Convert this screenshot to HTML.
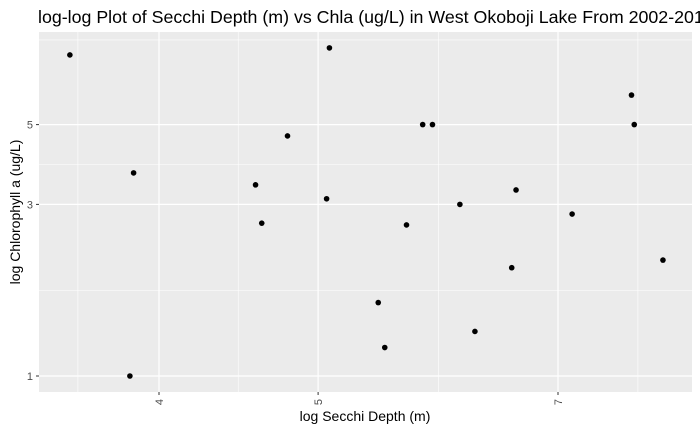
<!DOCTYPE html>
<html><head><meta charset="utf-8"><style>
body{margin:0;background:#fff;}
svg{display:block;font-family:"Liberation Sans",Arial,sans-serif;}
</style></head><body>
<svg id="chart" width="700" height="432">
<text x="38" y="23" font-size="17.8" fill="#000">log-log Plot of Secchi Depth (m) vs Chla (ug/L) in West Okoboji Lake From 2002-2018</text>
<rect x="39" y="32" width="653" height="360" fill="#ebebeb"/>
<g id="grid"></g><g id="pts"></g><g id="ticks"></g>
<text x="365" y="421" font-size="14" text-anchor="middle" fill="#000">log Secchi Depth (m)</text>
<text transform="translate(20,212) rotate(-90)" font-size="14" text-anchor="middle" fill="#000">log Chlorophyll a (ug/L)</text>
</svg>
<script>
const secchi=[3.53,3.86,3.84,4.58,4.62,4.79,5.06,5.08,5.44,5.49,5.66,5.79,5.87,6.10,6.23,6.56,6.60,7.14,7.76,7.79,8.11];
const chla=[7.81,3.67,1.0,3.40,2.66,4.65,3.11,8.17,1.60,1.20,2.63,5.0,5.0,3.0,1.33,2.0,3.29,2.82,6.04,5.0,2.10];
const xTicks=[4,5,7];
const xMinor=[3.57,4.47,5.92,7.83];
const yTicks=[1,3,5];
const yMinor=[1.73,3.87,8.6];
const NS='http://www.w3.org/2000/svg';
const X=v=>159+Math.log(v/4)*713;
const Y=v=>376-Math.log(v)*156.2;
function mk(t,a,p){const e=document.createElementNS(NS,t);for(const k in a)e.setAttribute(k,a[k]);p.appendChild(e);return e;}
const g=document.getElementById('grid'),pg=document.getElementById('pts'),tg=document.getElementById('ticks');
xMinor.forEach(v=>{const l=mk('line',{x1:X(v),x2:X(v),y1:32,y2:392,stroke:'#fff','stroke-width':0.6},g);

});
yMinor.forEach(v=>{const l=mk('line',{x1:39,x2:692,y1:Y(v),y2:Y(v),stroke:'#fff','stroke-width':0.6},g);

});
xTicks.forEach(v=>{const l=mk('line',{x1:X(v),x2:X(v),y1:32,y2:392,stroke:'#fff','stroke-width':1.2},g);


mk('line',{x1:X(v),x2:X(v),y1:392,y2:395,stroke:'#333','stroke-width':1},tg);
const t=mk('text',{transform:`translate(${X(v)+4},399) rotate(-90)`,'font-size':11,fill:'#4d4d4d','text-anchor':'end'},tg);t.textContent=v;

});
yTicks.forEach(v=>{const l=mk('line',{x1:39,x2:692,y1:Y(v),y2:Y(v),stroke:'#fff','stroke-width':1.2},g);


mk('line',{x1:36,x2:39,y1:Y(v),y2:Y(v),stroke:'#333','stroke-width':1},tg);
const t=mk('text',{x:33,y:Y(v)+4,'font-size':11,fill:'#4d4d4d','text-anchor':'end'},tg);t.textContent=v;

});
secchi.forEach((v,i)=>{const c=mk('circle',{cx:X(v),cy:Y(chla[i]),r:2.8,fill:'#000'},pg);

});
</script>
</body></html>
